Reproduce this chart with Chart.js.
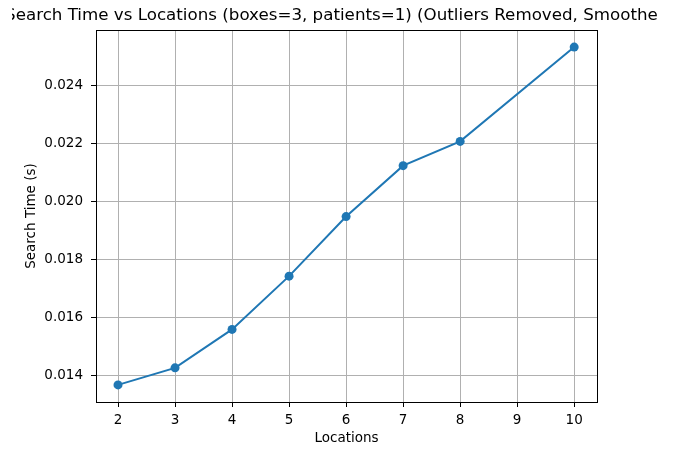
<!DOCTYPE html>
<html>
<head>
<meta charset="utf-8">
<script src="https://cdn.jsdelivr.net/npm/chart.js@4.4.1/dist/chart.umd.min.js"></script>
<style>
  html, body { margin: 0; padding: 0; background: #fff; }
  #wrap { width: 680px; height: 451px; }
</style>
</head>
<body>
<div id="wrap"><canvas id="line-chart" width="680" height="451"></canvas></div>
<script>
var locations = [2, 3, 4, 5, 6, 7, 8, 10];
var searchTimes = [0.01366, 0.01425, 0.01558, 0.01742, 0.01948, 0.02124, 0.02208, 0.02534];
var xTicks = [2, 3, 4, 5, 6, 7, 8, 9, 10];
var yTicks = [0.014, 0.016, 0.018, 0.020, 0.022, 0.024];
var titleText = "Search Time vs Locations (boxes=3, patients=1) (Outliers Removed, Smoothed)";

var font = "'DejaVu Sans', sans-serif";

// title (cut off at both ends, as in the saved figure) and full box round the plot
var framePlugin = {
    id: 'frame',
    afterDraw: function (chart) {
        var ctx = chart.ctx, a = chart.chartArea;
        ctx.save();
        ctx.strokeStyle = '#000';
        ctx.lineWidth = 1;
        ctx.strokeRect(Math.round(a.left) + 0.5, Math.round(a.top) + 0.5,
            Math.round(a.right - a.left), Math.round(a.bottom - a.top));
        ctx.beginPath();
        ctx.rect(12, 0, 645, 29);
        ctx.clip();
        ctx.fillStyle = '#000';
        ctx.font = "16.7px " + font;
        ctx.textAlign = 'center';
        ctx.textBaseline = 'alphabetic';
        ctx.fillText(titleText, chart.width / 2, 20);
        ctx.restore();
    }
};

var points = locations.map(function (x, i) { return {x: x, y: searchTimes[i]}; });

new Chart(document.getElementById("line-chart").getContext("2d"), {
    type: 'line',
    data: {
        datasets: [
            {
                data: points,
                borderColor: '#1f77b4',
                backgroundColor: '#1f77b4',
                borderWidth: 2,
                pointRadius: 4.5,
                pointHoverRadius: 4.5,
                pointBorderWidth: 0,
                tension: 0
            }
        ]
    },
    options: {
        responsive: false,
        animation: false,
        events: [],
        layout: {padding: {top: 30, right: 83, left: 0, bottom: 0}},
        plugins: {
            legend: {display: false},
            title: {display: false},
            tooltip: {enabled: false}
        },
        scales: {
            x: {
                type: 'linear',
                min: 1.614,
                max: 10.4,
                afterBuildTicks: function (s) { s.ticks = xTicks.map(function (v) { return {value: v}; }); },
                afterFit: function (s) { s.height = 49; },
                grid: {color: '#b0b0b0', lineWidth: 1, tickLength: 5, tickColor: '#000'},
                border: {color: '#000', width: 1},
                ticks: {color: '#000', padding: 5, font: {family: font, size: 13.5}, maxRotation: 0},
                title: {display: true, text: 'Locations', color: '#000', padding: {top: 0, bottom: 4},
                        font: {family: font, size: 13.5}}
            },
            y: {
                type: 'linear',
                min: 0.013069,
                max: 0.025931,
                afterBuildTicks: function (s) { s.ticks = yTicks.map(function (v) { return {value: v}; }); },
                afterFit: function (s) { s.width = 96; },
                grid: {color: '#b0b0b0', lineWidth: 1, tickLength: 5, tickColor: '#000'},
                border: {color: '#000', width: 1},
                ticks: {color: '#000', padding: 8, font: {family: font, size: 13.5},
                        callback: function (v) { return v.toFixed(3); }},
                title: {display: true, text: 'Search Time (s)', color: '#000', padding: {top: 23, bottom: 0},
                        font: {family: font, size: 13.5}}
            }
        }
    },
    plugins: [framePlugin]
});
</script>
</body>
</html>
